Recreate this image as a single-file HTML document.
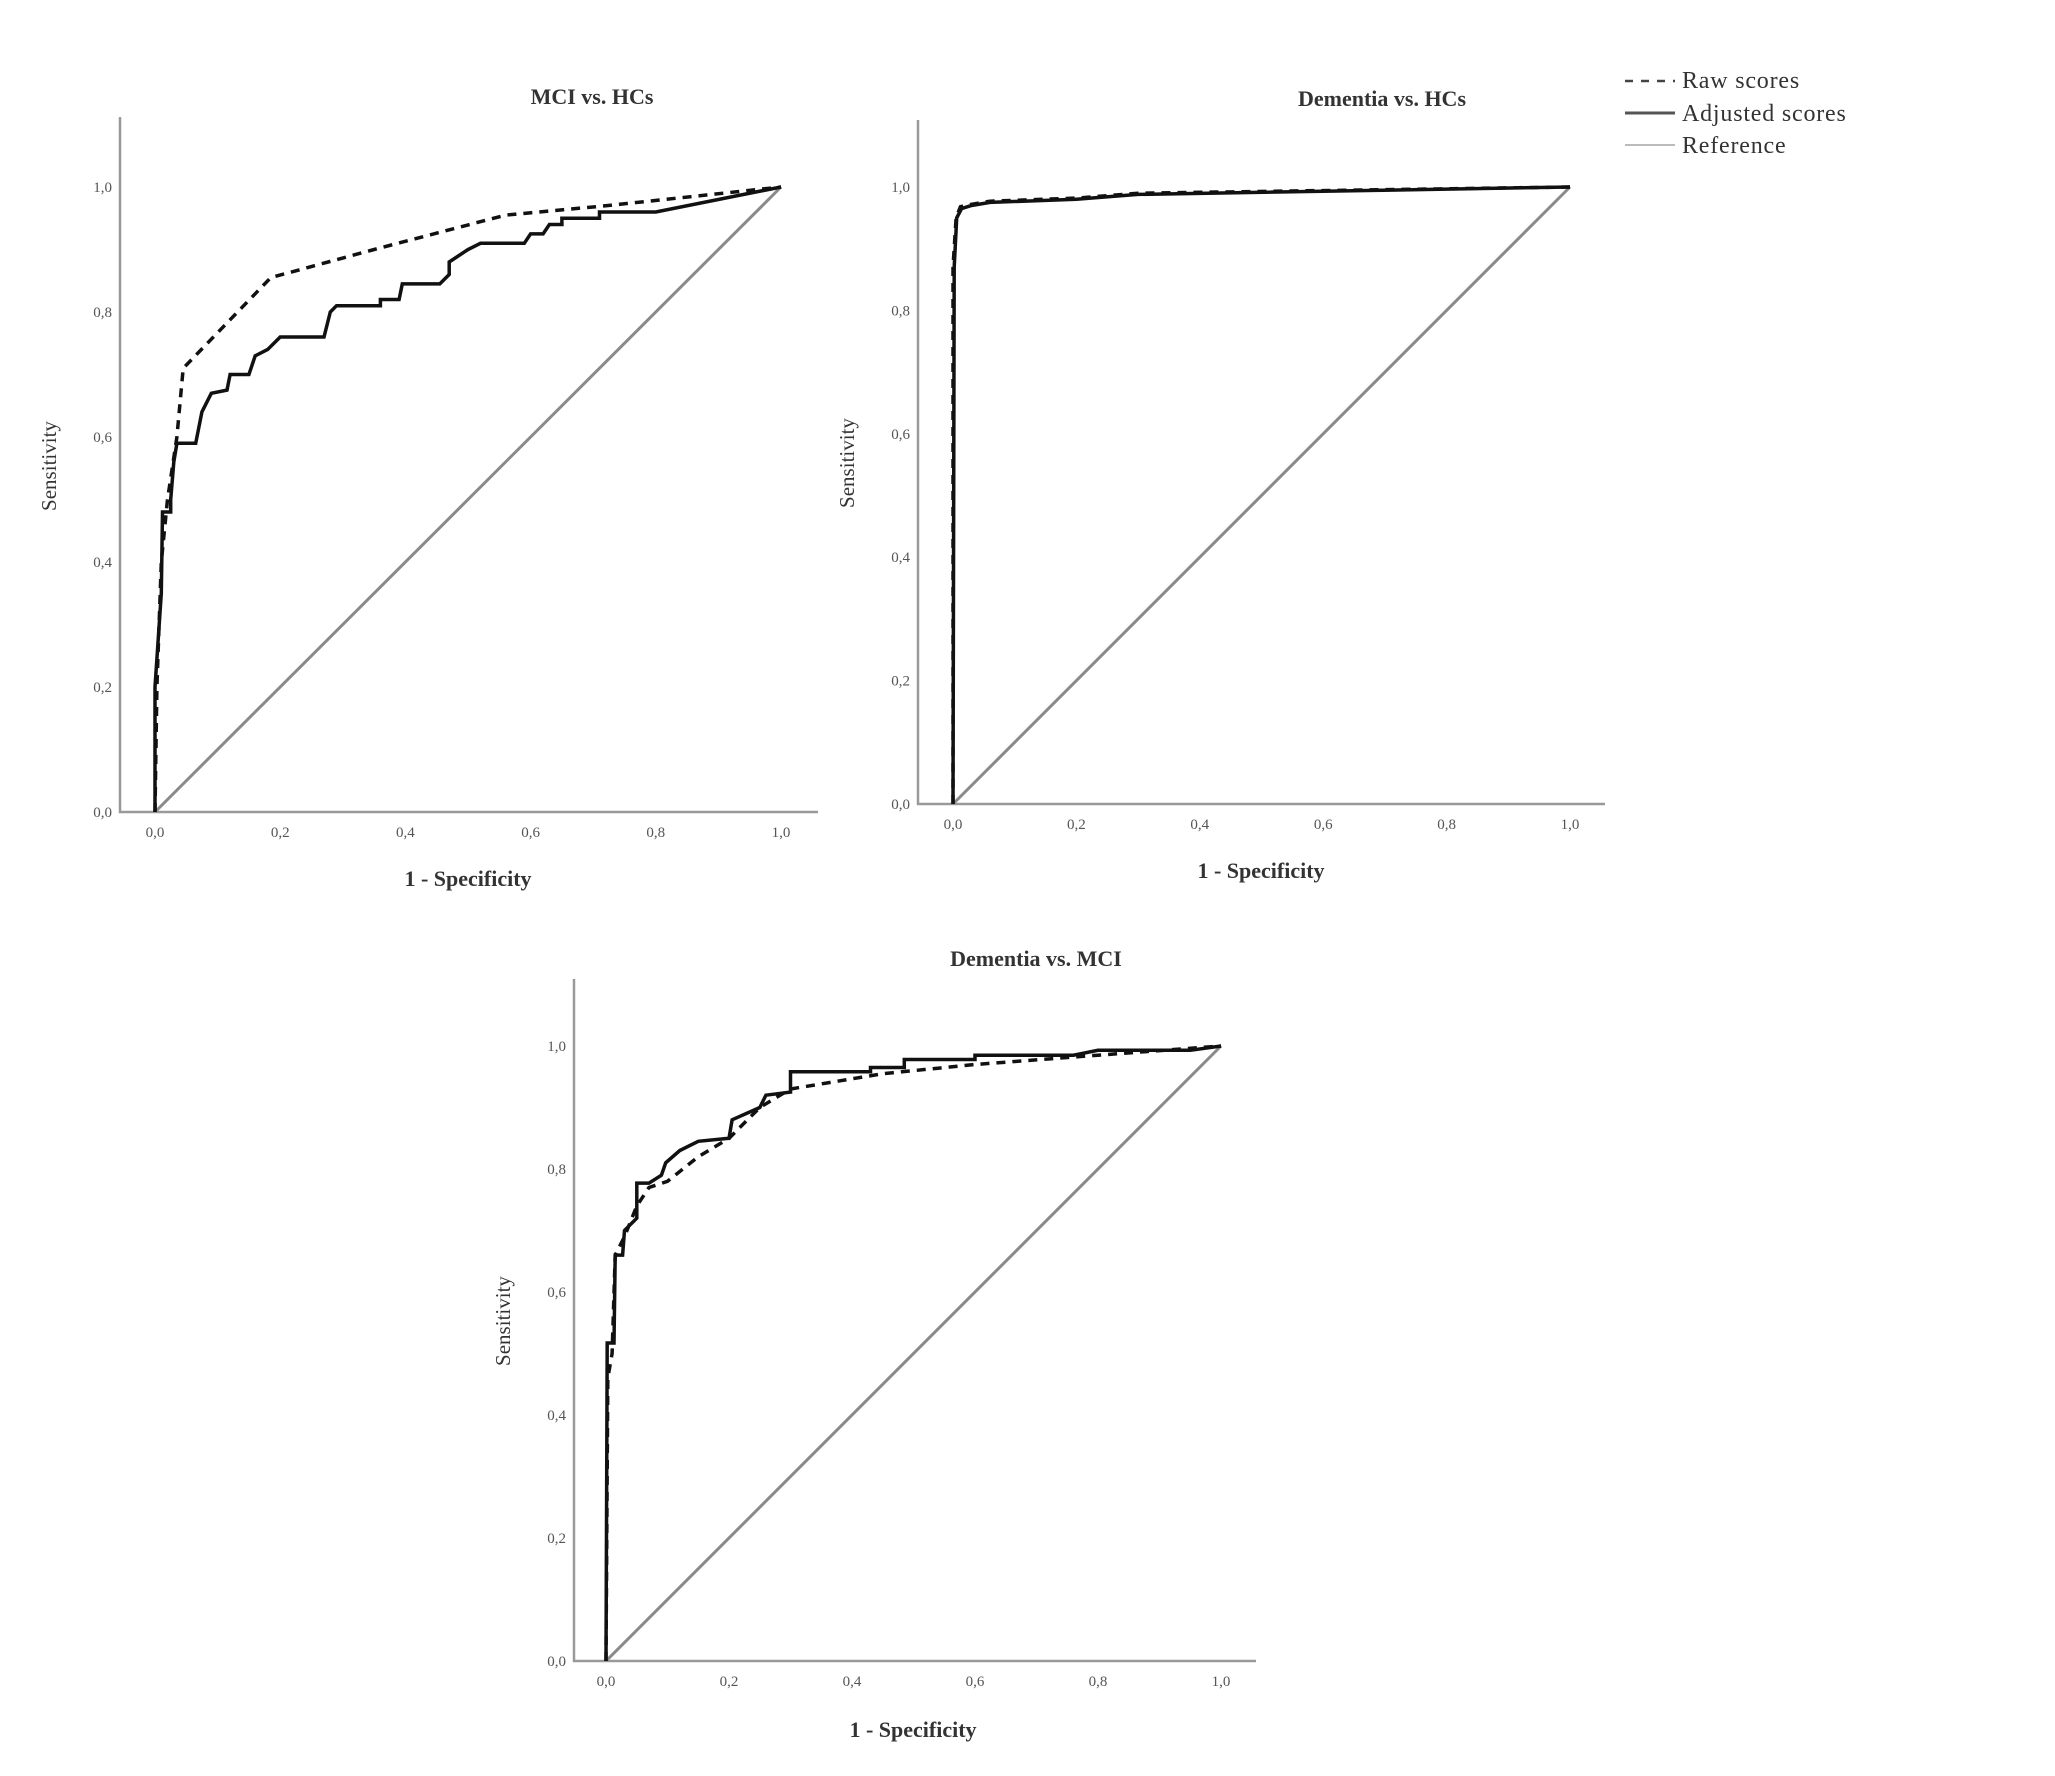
<!DOCTYPE html>
<html><head><meta charset="utf-8"><style>
html,body{margin:0;padding:0;background:#fff}
svg{display:block}
text{font-family:"Liberation Serif",serif}
.t{font-size:15px;fill:#555}
.ttl{font-size:22px;font-weight:bold;fill:#333}
.ax{font-size:21px;fill:#333}
</style></head><body>
<svg id="s" width="2055" height="1776" viewBox="0 0 2055 1776" xmlns="http://www.w3.org/2000/svg">
<rect width="2055" height="1776" fill="#fff"/>
<g id="g"></g>
<g fill="#333">
<line x1="1625" y1="81" x2="1675" y2="81" stroke="#444" stroke-width="2.5" stroke-dasharray="8,8"/>
<text x="1682" y="88" font-size="24" letter-spacing="0.8" fill="#333">Raw scores</text>
<line x1="1625" y1="113" x2="1675" y2="113" stroke="#555" stroke-width="3"/>
<text x="1682" y="121" font-size="24" letter-spacing="0.8" fill="#333">Adjusted scores</text>
<line x1="1625" y1="145" x2="1675" y2="145" stroke="#bbb" stroke-width="2"/>
<text x="1682" y="153" font-size="24" letter-spacing="0.8" fill="#333">Reference</text>
</g>
</svg>
<script>
const NS="http://www.w3.org/2000/svg";
const g=document.getElementById('g');
function el(t,a,txt){const e=document.createElementNS(NS,t);for(const k in a)e.setAttribute(k,a[k]);if(txt!==undefined)e.textContent=txt;g.appendChild(e);return e;}
function chart(c){
 const {x0,x1,y0,y1,ax,top,right,title,tX,tY,yl,ylx,xt,xtX}=c;
 const sx=v=>x0+(x1-x0)*v, sy=v=>y0-(y0-y1)*v;
 el('polyline',{points:`${ax},${top} ${ax},${y0} ${right},${y0}`,fill:'none',stroke:'#999','stroke-width':2.5});
 for(let i=0;i<=5;i++){const v=i/5,l=(v).toFixed(1).replace('.',',');
  el('text',{x:ax-8,y:sy(v)+5,'text-anchor':'end',class:'t'},l);
  el('text',{x:sx(v),y:y0+25,'text-anchor':'middle',class:'t'},l);}
 el('line',{x1:sx(0),y1:sy(0),x2:sx(1),y2:sy(1),stroke:'#8a8a8a','stroke-width':3});
 const p=pts=>pts.map(q=>sx(q[0]).toFixed(1)+','+sy(q[1]).toFixed(1)).join(' ');
 el('polyline',{points:p(c.raw),fill:'none',stroke:'#111','stroke-width':3.5,'stroke-dasharray':'9,7'});
 el('polyline',{points:p(c.adj),fill:'none',stroke:'#111','stroke-width':3.5,'stroke-linejoin':'miter'});
 el('text',{x:tX,y:tY,'text-anchor':'middle',class:'ttl'},title);
 el('text',{x:xtX,y:xt,'text-anchor':'middle',class:'ttl'},'1 - Specificity');
 el('text',{x:ylx,y:yl,'text-anchor':'middle',class:'ax',transform:`rotate(-90 ${ylx} ${yl})`},'Sensitivity');
}
chart({x0:155,x1:781,y0:812,y1:187,ax:120,top:117,right:818,title:'MCI vs. HCs',tX:592,tY:104,yl:466,ylx:56,xt:886,xtX:468,
raw:[[0,0],[0.003,0.2],[0.01,0.4],[0.02,0.5],[0.035,0.6],[0.045,0.71],[0.185,0.855],[0.35,0.9],[0.56,0.955],[0.72,0.97],[1,1]],
adj:[[0,0],[0,0.2],[0.01,0.35],[0.012,0.48],[0.025,0.48],[0.025,0.5],[0.03,0.56],[0.035,0.59],[0.065,0.59],[0.075,0.64],[0.09,0.67],[0.115,0.675],[0.12,0.7],[0.15,0.7],[0.16,0.73],[0.18,0.74],[0.2,0.76],[0.27,0.76],[0.28,0.8],[0.29,0.81],[0.36,0.81],[0.36,0.82],[0.39,0.82],[0.395,0.845],[0.455,0.845],[0.47,0.86],[0.47,0.88],[0.5,0.9],[0.52,0.91],[0.59,0.91],[0.6,0.925],[0.62,0.925],[0.63,0.94],[0.65,0.94],[0.65,0.95],[0.71,0.95],[0.71,0.96],[0.8,0.96],[1,1]]});
chart({x0:953,x1:1570,y0:804,y1:187,ax:918,top:120,right:1605,title:'Dementia vs. HCs',tX:1382,tY:106,yl:463,ylx:854,xt:878,xtX:1261,
raw:[[0,0],[0,0.87],[0.005,0.95],[0.012,0.968],[0.03,0.972],[0.06,0.977],[0.2,0.982],[0.3,0.99],[1,1]],
adj:[[0,0],[0.002,0.87],[0.006,0.95],[0.014,0.965],[0.03,0.97],[0.06,0.975],[0.2,0.98],[0.3,0.988],[1,1]]});
chart({x0:606,x1:1221,y0:1661,y1:1046,ax:574,top:979,right:1256,title:'Dementia vs. MCI',tX:1036,tY:966,yl:1321,ylx:510,xt:1737,xtX:913,
raw:[[0,0],[0.003,0.46],[0.01,0.5],[0.015,0.66],[0.03,0.69],[0.05,0.74],[0.07,0.77],[0.1,0.78],[0.15,0.82],[0.2,0.85],[0.25,0.9],[0.3,0.93],[0.45,0.955],[0.6,0.97],[0.8,0.985],[1,1]],
adj:[[0,0],[0.002,0.517],[0.013,0.517],[0.015,0.66],[0.027,0.66],[0.03,0.7],[0.04,0.71],[0.05,0.72],[0.05,0.777],[0.07,0.777],[0.09,0.79],[0.097,0.81],[0.12,0.83],[0.15,0.845],[0.2,0.85],[0.205,0.88],[0.25,0.9],[0.26,0.92],[0.3,0.925],[0.3,0.958],[0.43,0.958],[0.43,0.965],[0.485,0.965],[0.485,0.978],[0.6,0.978],[0.6,0.985],[0.76,0.985],[0.8,0.993],[0.95,0.993],[1,1]]});
</script>
</body></html>
